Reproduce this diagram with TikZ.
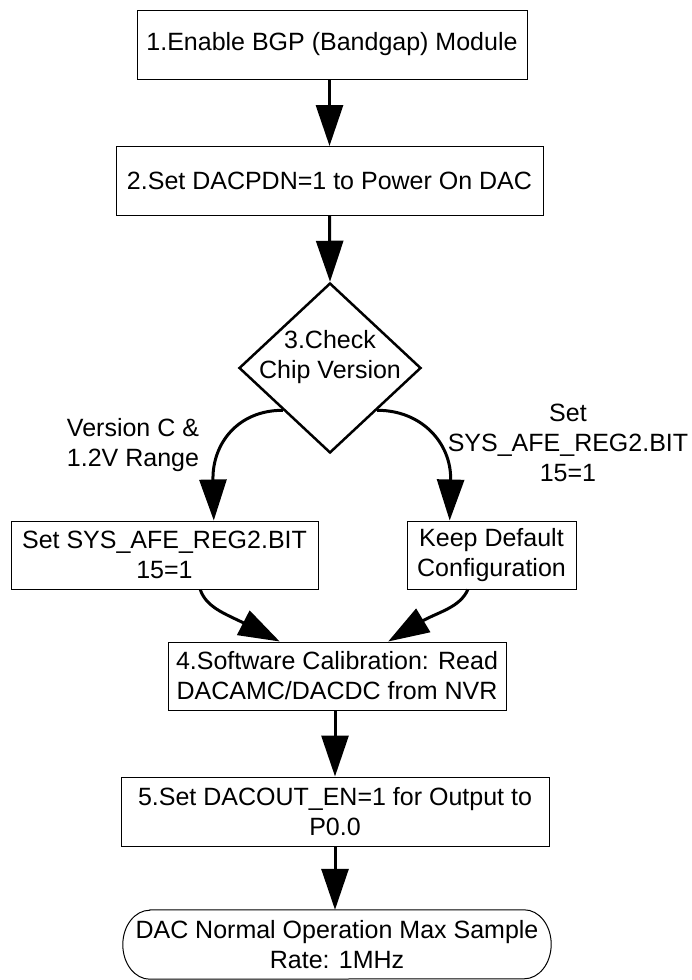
\documentclass[tikz,border=0pt]{standalone}
\usepackage{fontspec}
\setmainfont{Liberation Sans}
\usetikzlibrary{arrows.meta,shapes.geometric,calc}
\begin{document}
\begin{tikzpicture}[x=1pt,y=-1pt,
  txt/.style={font=\fontsize{25}{30}\selectfont, align=center, inner sep=0pt},
  box/.style={txt, draw, line width=1pt, minimum width=#1, minimum height=69pt},
  arr/.style={line width=3pt, -{Triangle[length=41pt,width=27pt]}},
]
\useasboundingbox (0,0) rectangle (691,980);
\node[box=390pt] (b1) at (332,44.5) {1.Enable BGP (Bandgap) Module};
\node[box=427pt] (b2) at (329.5,181) {2.Set DACPDN=1 to Power On DAC};
\node[diamond, draw, line width=2.5pt, minimum width=182pt, minimum height=170pt, inner sep=0pt] (d) at (330,368) {};
\node[txt] (dt) at (330,357) {3.Check\\Chip Version};
\node[box=307pt, minimum height=68pt] (lb) at (164.5,555) {Set SYS\_AFE\_REG2.BIT\\15=1};
\node[box=169pt, minimum height=68pt] (rb) at (491.5,555) {Keep Default\\Configuration};
\node[txt] (ll) at (133,445) {Version C \&\\1.2V Range};
\node[txt] (rl) at (568,443) {Set\\SYS\_AFE\_REG2.BIT\\15=1};
\node[box=338pt, minimum height=68pt] (b4) at (337,676) {4.Software Calibration: Read\\DACAMC/DACDC from NVR};
\node[box=428pt] (b5) at (335,811.5) {5.Set DACOUT\_EN=1 for Output to\\P0.0};
\node[txt, minimum width=428pt, minimum height=69pt] (t) at (337,944.5) {DAC Normal Operation Max Sample\\Rate: 1MHz};
\draw[line width=1pt] ([xshift=27pt]t.north west) -- ([xshift=-27pt]t.north east)
  arc[start angle=90,end angle=-90,x radius=27pt,y radius=34.5pt]
  -- ([xshift=27pt]t.south west)
  arc[start angle=270,end angle=90,x radius=27pt,y radius=34.5pt] -- cycle;
% connection points
\coordinate (dl) at ($(d.west)!0.49!(d.south)$);
\coordinate (dr) at ($(d.east)!0.49!(d.south)$);
\coordinate (lt) at ($(lb.north west)!0.66!(lb.north east)$);
\coordinate (rt) at ($(rb.north west)!0.254!(rb.north east)$);
\coordinate (lbb) at ($(lb.south west)!0.616!(lb.south east)$);
\coordinate (rbb) at ($(rb.south west)!0.361!(rb.south east)$);
\coordinate (b4l) at ($(b4.north west)!0.331!(b4.north east)$);
\coordinate (b4r) at ($(b4.north west)!0.651!(b4.north east)$);
% connectors
\draw[arr] (b2.north |- b1.south) -- (b2.north);
\draw[arr] (b2.south) -- (d.north);
\draw[arr] (dl) .. controls +(-45,0) and +(0,-35) .. ++(-70,68) -- (lt);
\draw[arr] (dr) .. controls +(45,0) and +(0,-35) .. ++(73.6,68) -- (rt);
\draw[arr] (lbb) .. controls +(6,18) and +(-18,-9) .. ++(43.5,33.5) -- (b4l);
\draw[arr] (rbb) .. controls +(-8,18) and +(18,-10) .. ++(-46.5,32) -- (b4r);
\draw[arr] (b5.north |- b4.south) -- (b5.north);
\draw[arr] (b5.south) -- (b5.south |- t.north);
\end{tikzpicture}
\end{document}
